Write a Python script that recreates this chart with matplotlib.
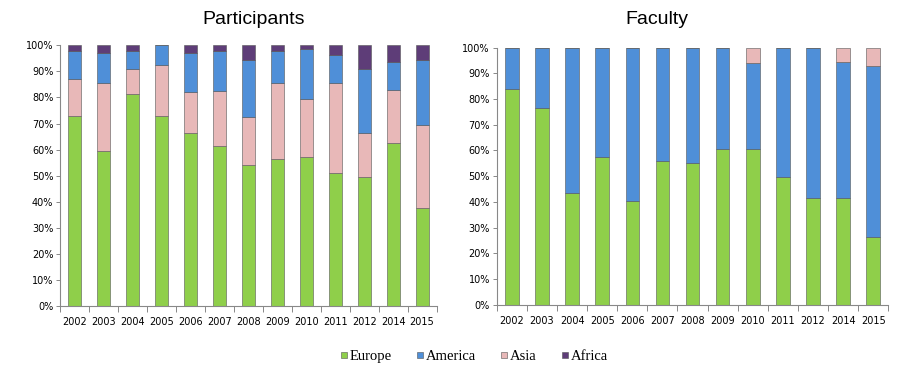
import matplotlib
matplotlib.use("Agg")
import matplotlib.pyplot as plt
import numpy as np
from matplotlib.ticker import FixedLocator, PercentFormatter
from matplotlib.lines import Line2D

years = ["2002", "2003", "2004", "2005", "2006", "2007", "2008",
         "2009", "2010", "2011", "2012", "2014", "2015"]

# Participants (%), stacked bottom->top: Europe, Asia, America, Africa
p_europe  = [73, 59.5, 81.5, 73, 66.5, 61.5, 54, 56.5, 57, 51, 49.5, 62.5, 37.5]
p_asia    = [14, 26, 9.5, 19.5, 15.5, 21, 18.5, 29, 22.5, 34.5, 17, 20.5, 32]
p_america = [11, 11.5, 7, 7.5, 15, 15.5, 22, 12.5, 19, 11, 24.5, 10.5, 25]
p_africa  = [2, 3, 2, 0, 3, 2, 5.5, 2, 1.5, 3.5, 9, 6.5, 5.5]

# Faculty (%), stacked bottom->top: Europe, America, Asia
f_europe  = [84, 76.5, 43.5, 57.5, 40.5, 56, 55, 60.5, 60.5, 49.5, 41.5, 41.5, 26.5]
f_america = [16, 23.5, 56.5, 42.5, 59.5, 44, 45, 39.5, 33.5, 50.5, 58.5, 53, 66.5]
f_asia    = [0, 0, 0, 0, 0, 0, 0, 0, 6, 0, 0, 5.5, 7]

C_EUR = "#8fcf4a"
C_AME = "#4f8fd8"
C_ASI = "#e8b8b8"
C_AFR = "#5e3d78"
EDGE = "#555555"

fig = plt.figure(figsize=(9, 3.69), dpi=100)
ax1 = fig.add_axes([0.067, 0.171, 0.418, 0.706])
ax2 = fig.add_axes([0.552, 0.174, 0.435, 0.697])

def stack(ax, series):
    x = np.arange(len(years))
    bottom = np.zeros(len(years))
    for vals, col in series:
        v = np.array(vals, dtype=float)
        ax.bar(x, v, bottom=bottom, width=0.45, color=col,
               edgecolor=EDGE, linewidth=0.4)
        bottom += v
    ax.set_xlim(-0.5, len(years) - 0.5)
    ax.set_ylim(0, 100)
    ax.set_xticks(x)
    ax.set_xticklabels(years, fontsize=7, family="DejaVu Sans")
    ax.xaxis.set_minor_locator(FixedLocator(np.arange(-0.5, len(years), 1.0)))
    ax.tick_params(axis="x", which="major", length=0, pad=8)
    ax.tick_params(axis="x", which="minor", length=4, color="#888888", width=0.7)
    ax.set_yticks(np.arange(0, 101, 10))
    ax.yaxis.set_major_formatter(PercentFormatter(decimals=0))
    ax.tick_params(axis="y", labelsize=7, length=3, color="#888888", width=0.7, pad=2)
    for lab in ax.get_yticklabels():
        lab.set_family("DejaVu Sans")
    for s in ("top", "right"):
        ax.spines[s].set_visible(False)
    for s in ("left", "bottom"):
        ax.spines[s].set_color("#888888")
        ax.spines[s].set_linewidth(0.8)

stack(ax1, [(p_europe, C_EUR), (p_asia, C_ASI), (p_america, C_AME), (p_africa, C_AFR)])
stack(ax2, [(f_europe, C_EUR), (f_america, C_AME), (f_asia, C_ASI)])

fig.text(0.282, 0.947, "Participants", ha="center", va="center",
         fontsize=14, family="Liberation Sans")
fig.text(0.730, 0.947, "Faculty", ha="center", va="center",
         fontsize=14, family="Liberation Sans")

handles = [Line2D([], [], marker="s", linestyle="none", markersize=4.5,
                  markerfacecolor=c, markeredgecolor=EDGE, markeredgewidth=0.4)
           for c in (C_EUR, C_AME, C_ASI, C_AFR)]
fig.legend(handles, ["Europe", "America", "Asia", "Africa"], loc="center",
           bbox_to_anchor=(0.526, 0.035), ncol=4, frameon=False,
           prop={"family": "Liberation Serif", "size": 10.5},
           handletextpad=0.05, columnspacing=1.6, handlelength=0.7)

fig.savefig("out.png", dpi=100)
